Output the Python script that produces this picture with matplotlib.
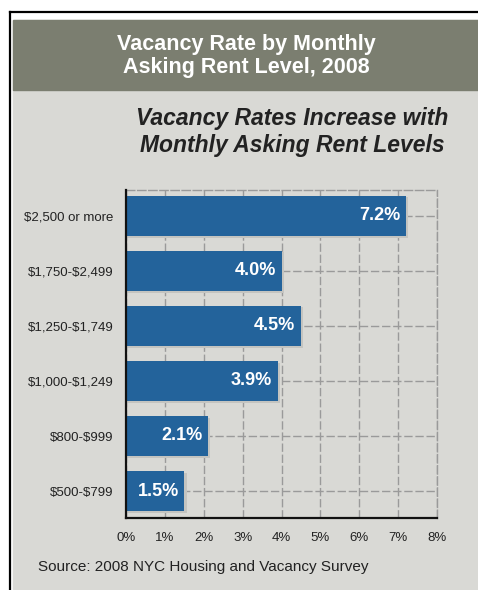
import matplotlib.pyplot as plt
from matplotlib.patches import Rectangle
from matplotlib.lines import Line2D

# datos
categorias = ["$500-$799", "$800-$999", "$1,000-$1,249", "$1,250-$1,749",
              "$1,750-$2,499", "$2,500 or more"]
tasas = [1.5, 2.1, 3.9, 4.5, 4.0, 7.2]
ticks_x = [0, 1, 2, 3, 4, 5, 6, 7, 8]

titulo = "Vacancy Rate by Monthly\nAsking Rent Level, 2008"
subtitulo = "Vacancy Rates Increase with\nMonthly Asking Rent Levels"
fuente = "Source: 2008 NYC Housing and Vacancy Survey"

W, H = 478, 590
azul = "#23639b"
fondo = "#d9d9d5"
gris_titulo = "#7b7e70"

plt.rcParams['font.family'] = ['Liberation Sans', 'DejaVu Sans']
plt.rcParams['text.parse_math'] = False  # los $ son texto, no mathtext

fig = plt.figure(figsize=(W / 100, H / 100), dpi=100)
fig.patch.set_facecolor("white")

def fx(px):
    return px / W

def fy(py):
    return 1 - py / H

# panel gris claro y banda del titulo
fig.patches.append(Rectangle((fx(13), fy(589)), fx(478 - 13), 569 / H,
                             transform=fig.transFigure, color=fondo, zorder=-2))
fig.patches.append(Rectangle((fx(13), fy(90)), fx(478 - 13), 70 / H,
                             transform=fig.transFigure, color=gris_titulo, zorder=-1))
# marco negro
fig.lines.append(Line2D([fx(10), fx(10)], [fy(590), fy(12)], transform=fig.transFigure,
                        color="black", lw=1.6))
fig.lines.append(Line2D([fx(10), 1], [fy(12), fy(12)], transform=fig.transFigure,
                        color="black", lw=1.6))

fig.text(fx(246), fy(56), titulo, color="white", fontsize=15.5, fontweight="bold",
         ha="center", va="center", linespacing=1.1)
fig.text(fx(292), fy(132), subtitulo, color="#222222", fontsize=16.5, fontweight="bold",
         style="italic", ha="center", va="center", linespacing=1.25)
fig.text(fx(38), fy(567), fuente, color="#222222", fontsize=11, ha="left", va="center")

ax = fig.add_axes([fx(126), fy(518), fx(437 - 126), (518 - 190) / H])
ax.set_zorder(2)
ax.set_facecolor(fondo)
pos = list(range(len(categorias)))

# sombra leve de las barras
ax.barh([p - 0.03 for p in pos], [t + 0.06 for t in tasas], height=0.73,
        color="#c4c4c0", zorder=2)
ax.barh(pos, tasas, height=0.73, color=azul, zorder=3)

for p, t in zip(pos, tasas):
    ax.text(t - 0.14, p, f"{t}%", color="white", fontsize=13, fontweight="bold",
            ha="right", va="center", zorder=4)

ax.set_xlim(0, 8)
ax.set_ylim(-0.49, 5.47)
ax.set_xticks(ticks_x)
ax.set_xticklabels([f"{t}%" for t in ticks_x], fontsize=9.5, color="#222222")
ax.set_yticks(pos)
ax.set_yticklabels(categorias, fontsize=9.5, color="#222222")
ax.tick_params(length=0)
ax.tick_params(axis="y", pad=9)
ax.tick_params(axis="x", pad=10)

ax.grid(True, color="#9a9a9a", linestyle=(0, (6, 2)), lw=1.0, zorder=1)
ax.set_axisbelow(True)
for lado in ["top", "right"]:
    ax.spines[lado].set_color("#9a9a9a")
    ax.spines[lado].set_linestyle((0, (6, 2)))
    ax.spines[lado].set_linewidth(1.0)
for lado in ["left", "bottom"]:
    ax.spines[lado].set_color("#111111")
    ax.spines[lado].set_linewidth(1.6)
    ax.spines[lado].set_zorder(5)

fig.savefig("out.png", dpi=100, facecolor=fig.get_facecolor())
